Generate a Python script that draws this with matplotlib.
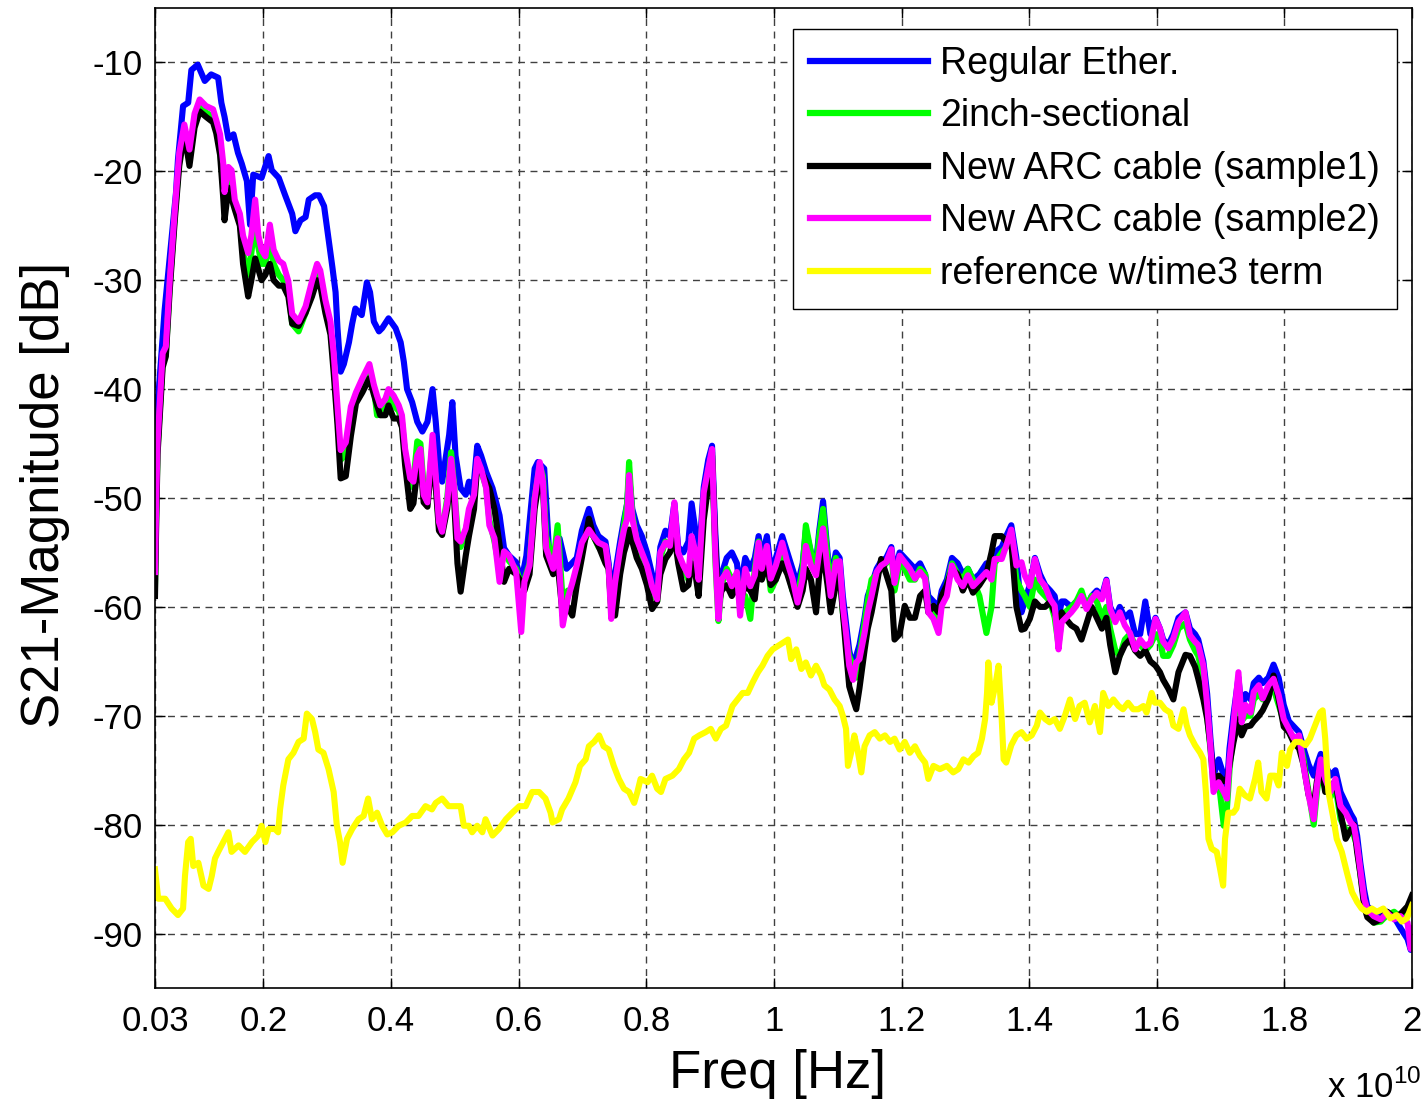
import matplotlib.pyplot as plt
import numpy as np

# frequency grid (x 1e10 Hz) shared by the ARC / sectional traces
f_arc = np.array([
    0.030, 0.032, 0.034, 0.042, 0.047, 0.053, 0.061, 0.068, 0.076, 0.084,
    0.092, 0.100, 0.110, 0.121, 0.126, 0.132, 0.137, 0.139, 0.145, 0.150,
    0.155, 0.163, 0.168, 0.176, 0.181, 0.187, 0.192, 0.197, 0.203, 0.210,
    0.216, 0.224, 0.231, 0.239, 0.245, 0.255, 0.266, 0.276, 0.284, 0.289,
    0.297, 0.305, 0.310, 0.316, 0.321, 0.329, 0.337, 0.345, 0.355, 0.366,
    0.373, 0.378, 0.383, 0.391, 0.396, 0.404, 0.412, 0.417, 0.422, 0.430,
    0.435, 0.441, 0.446, 0.451, 0.457, 0.465, 0.470, 0.475, 0.480, 0.488,
    0.494, 0.499, 0.504, 0.509, 0.517, 0.522, 0.530, 0.535, 0.541, 0.549,
    0.554, 0.562, 0.570, 0.577, 0.585, 0.596, 0.604, 0.609, 0.617, 0.625,
    0.633, 0.638, 0.643, 0.654, 0.661, 0.669, 0.677, 0.684, 0.691, 0.699,
    0.710, 0.717, 0.725, 0.736, 0.741, 0.745, 0.751, 0.759, 0.765, 0.770,
    0.773, 0.778, 0.785, 0.793, 0.801, 0.809, 0.817, 0.822, 0.830, 0.837,
    0.844, 0.850, 0.858, 0.866, 0.871, 0.877, 0.882, 0.890, 0.897, 0.903,
    0.908, 0.913, 0.918, 0.926, 0.934, 0.942, 0.947, 0.955, 0.963, 0.970,
    0.976, 0.981, 0.989, 0.995, 1.003, 1.013, 1.021, 1.029, 1.037, 1.045,
    1.050, 1.058, 1.066, 1.071, 1.077, 1.084, 1.089, 1.097, 1.103, 1.108,
    1.113, 1.118, 1.124, 1.129, 1.134, 1.142, 1.147, 1.153, 1.161, 1.168,
    1.176, 1.184, 1.189, 1.197, 1.205, 1.213, 1.221, 1.229, 1.237, 1.242,
    1.250, 1.258, 1.263, 1.271, 1.279, 1.288, 1.296, 1.304, 1.312, 1.322,
    1.333, 1.341, 1.346, 1.357, 1.364, 1.372, 1.380, 1.388, 1.393, 1.401,
    1.409, 1.417, 1.425, 1.433, 1.440, 1.446, 1.451, 1.456, 1.466, 1.474,
    1.482, 1.490, 1.498, 1.506, 1.514, 1.521, 1.527, 1.535, 1.542, 1.550,
    1.558, 1.566, 1.574, 1.582, 1.590, 1.598, 1.605, 1.610, 1.618, 1.626,
    1.634, 1.645, 1.652, 1.660, 1.665, 1.673, 1.679, 1.684, 1.689, 1.697,
    1.705, 1.710, 1.714, 1.720, 1.728, 1.733, 1.739, 1.747, 1.752, 1.760,
    1.766, 1.775, 1.783, 1.791, 1.799, 1.807, 1.815, 1.823, 1.830, 1.838,
    1.846, 1.851, 1.857, 1.864, 1.872, 1.880, 1.888, 1.896, 1.904, 1.909,
    1.914, 1.919, 1.925, 1.930, 1.940, 1.951, 1.961, 1.972, 1.982, 1.993,
    1.998, 2.000])

magenta_db = [
    -56.8, -49.9, -44.9, -36.7, -36.1, -30.1, -23.6, -18.3, -15.7, -18.0,
    -14.7, -13.4, -14.0, -14.3, -15.3, -16.6, -19.3, -21.9, -19.6, -19.9,
    -22.6, -23.9, -25.9, -27.5, -25.9, -22.6, -25.9, -27.2, -27.8, -24.9,
    -27.2, -28.2, -28.5, -30.1, -33.1, -33.8, -32.4, -30.1, -28.5, -29.1,
    -31.8, -33.8, -36.7, -41.6, -45.6, -44.9, -41.6, -40.3, -39.0, -37.7,
    -39.6, -40.6, -41.5, -40.9, -40.0, -40.6, -41.5, -42.4, -45.5, -48.2,
    -48.5, -46.1, -45.5, -49.7, -50.4, -44.2, -47.9, -52.2, -53.1, -50.4,
    -46.4, -49.1, -53.7, -54.0, -52.8, -51.0, -49.7, -46.4, -47.3, -49.1,
    -52.5, -53.7, -57.7, -54.9, -55.3, -56.8, -62.3, -57.7, -56.2, -50.1,
    -46.7, -48.5, -54.6, -56.5, -53.7, -61.7, -59.2, -57.8, -56.2, -54.1,
    -52.9, -53.5, -54.1, -54.4, -56.5, -61.1, -57.8, -54.7, -52.9, -51.9,
    -47.9, -51.9, -53.8, -55.0, -56.2, -58.1, -59.3, -55.0, -54.1, -54.4,
    -50.4, -55.0, -56.2, -57.1, -53.5, -55.0, -57.5, -49.5, -47.3, -45.5,
    -55.0, -61.1, -57.5, -56.8, -58.1, -56.8, -60.8, -56.5, -58.1, -57.1,
    -54.1, -56.5, -54.4, -57.4, -56.2, -54.1, -55.9, -57.4, -59.6, -57.4,
    -54.4, -56.2, -57.1, -55.0, -52.8, -56.5, -59.0, -55.9, -55.8, -59.9,
    -62.4, -65.4, -66.7, -65.1, -64.8, -62.4, -60.5, -59.0, -56.8, -56.2,
    -55.9, -54.7, -57.8, -55.3, -55.9, -56.5, -57.4, -56.8, -57.4, -60.5,
    -61.1, -62.4, -59.9, -59.0, -56.2, -57.5, -58.1, -57.1, -58.1, -57.5,
    -56.8, -57.5, -55.6, -55.6, -54.4, -52.9, -56.2, -55.9, -57.1, -58.1,
    -55.6, -57.5, -58.1, -59.3, -59.9, -63.9, -61.4, -61.1, -60.5, -59.9,
    -59.0, -60.2, -59.3, -58.7, -59.3, -57.6, -60.2, -61.4, -60.5, -61.7,
    -62.4, -63.9, -63.0, -63.6, -63.3, -61.1, -62.0, -63.2, -63.8, -62.9,
    -61.4, -60.5, -62.6, -63.2, -63.5, -65.4, -69.0, -72.7, -77.0, -76.1,
    -77.0, -77.6, -74.0, -70.9, -66.0, -70.6, -69.0, -69.7, -67.8, -67.2,
    -68.4, -67.2, -66.6, -68.1, -70.3, -71.2, -72.1, -71.8, -74.6, -77.3,
    -79.5, -76.4, -74.0, -75.8, -77.0, -75.8, -78.3, -78.9, -79.8, -80.1,
    -81.9, -84.1, -86.8, -87.8, -88.4, -88.7, -88.1, -88.7, -88.4, -89.0,
    -91.4, -89.5]

black_db = [
    -59.0, -52.0, -46.0, -38.0, -37.0, -31.0, -24.5, -19.5, -16.5, -19.5,
    -16.0, -14.5, -15.0, -15.5, -16.5, -18.5, -22.5, -24.5, -21.5, -22.5,
    -23.5, -25.0, -28.5, -31.5, -30.0, -28.0, -29.0, -30.0, -29.5, -28.5,
    -30.0, -30.5, -30.5, -31.5, -34.0, -34.2, -33.0, -31.5, -30.0, -30.5,
    -33.0, -35.0, -38.5, -43.3, -48.2, -48.0, -44.3, -41.3, -40.3, -39.0,
    -40.5, -41.5, -42.4, -42.4, -41.5, -42.7, -42.7, -43.5, -47.0, -51.0,
    -50.5, -47.5, -46.7, -50.4, -50.8, -46.0, -49.0, -53.0, -53.4, -51.0,
    -47.5, -50.5, -56.0, -58.6, -55.3, -53.5, -51.0, -47.0, -47.5, -48.5,
    -49.1, -51.0, -54.3, -57.7, -56.5, -57.0, -57.7, -58.5, -57.0, -51.0,
    -48.0, -49.0, -55.3, -57.0, -56.0, -60.8, -60.0, -60.8, -58.0, -55.5,
    -51.9, -53.5, -54.4, -56.0, -56.5, -60.0, -60.8, -57.0, -55.0, -54.0,
    -52.9, -54.0, -55.5, -56.5, -58.0, -60.2, -59.5, -57.0, -55.6, -55.0,
    -53.5, -56.0, -58.4, -58.0, -56.0, -57.0, -59.0, -52.0, -48.9, -46.1,
    -54.0, -59.9, -58.5, -58.0, -59.0, -58.0, -59.5, -58.0, -58.5, -59.3,
    -56.0, -57.5, -56.0, -58.0, -57.5, -56.0, -57.0, -58.5, -60.0, -58.5,
    -56.5, -57.5, -60.5, -57.0, -55.0, -58.0, -60.5, -58.0, -57.0, -60.5,
    -64.0, -67.3, -68.5, -69.4, -67.5, -64.0, -62.0, -60.5, -58.0, -55.6,
    -57.0, -58.5, -63.0, -62.5, -59.9, -61.0, -61.0, -59.0, -58.5, -60.5,
    -59.9, -60.5, -59.0, -58.0, -56.5, -57.0, -58.5, -57.5, -58.7, -58.0,
    -57.0, -55.0, -53.5, -53.5, -54.0, -54.0, -60.0, -62.1, -62.0, -61.1,
    -59.5, -60.0, -60.0, -59.5, -60.5, -61.5, -60.5, -61.0, -61.7, -62.0,
    -63.0, -61.5, -60.0, -61.0, -62.0, -61.0, -63.5, -66.0, -64.5, -63.5,
    -63.0, -64.0, -64.5, -64.0, -65.0, -65.4, -66.0, -66.7, -67.5, -68.5,
    -66.0, -64.4, -64.5, -65.5, -66.6, -68.5, -70.3, -72.7, -75.8, -75.5,
    -76.0, -76.0, -74.5, -72.5, -70.3, -71.8, -71.0, -70.9, -70.5, -70.0,
    -69.5, -68.4, -66.3, -68.5, -71.0, -71.5, -72.5, -73.0, -74.5, -77.3,
    -78.3, -76.0, -74.5, -77.0, -76.5, -76.0, -78.9, -81.3, -80.5, -80.0,
    -82.5, -84.5, -87.5, -88.5, -89.0, -88.7, -88.0, -88.5, -88.2, -87.5,
    -86.8, -86.5]

green_db = [
    -58.0, -51.0, -45.5, -37.5, -36.8, -30.5, -24.0, -19.0, -16.2, -18.8,
    -15.5, -14.0, -14.6, -15.0, -16.0, -18.0, -21.5, -23.5, -20.5, -21.5,
    -23.0, -24.5, -27.5, -29.5, -27.5, -24.5, -27.0, -28.5, -28.5, -26.5,
    -28.5, -29.5, -30.0, -31.0, -34.0, -34.7, -33.0, -31.0, -29.0, -30.0,
    -32.5, -34.5, -37.5, -42.5, -46.5, -46.0, -42.5, -41.0, -40.0, -38.5,
    -39.8, -42.4, -42.0, -41.5, -40.5, -41.5, -42.0, -43.0, -46.0, -49.0,
    -48.5, -44.8, -45.0, -49.0, -50.0, -45.0, -48.5, -52.5, -53.0, -50.0,
    -45.8, -49.0, -53.0, -54.5, -53.0, -51.5, -50.0, -46.8, -47.5, -49.0,
    -52.0, -54.0, -56.5, -55.0, -55.8, -56.5, -58.0, -57.5, -56.0, -50.0,
    -47.0, -48.0, -53.5, -56.0, -52.5, -59.5, -58.5, -58.5, -56.8, -54.5,
    -53.0, -53.5, -54.5, -55.0, -56.5, -60.5, -58.5, -55.0, -52.5, -50.5,
    -46.7, -51.5, -54.0, -55.5, -56.5, -58.5, -59.5, -55.5, -54.0, -54.2,
    -53.0, -55.5, -56.5, -57.5, -54.5, -55.5, -58.0, -50.0, -47.5, -45.8,
    -55.5, -61.3, -58.0, -56.5, -57.5, -57.0, -60.0, -59.0, -61.1, -56.5,
    -54.0, -56.5, -55.5, -58.5, -57.5, -55.0, -56.5, -58.5, -59.0, -56.5,
    -52.5, -55.0, -56.5, -53.5, -51.0, -55.5, -58.0, -55.5, -56.5, -60.5,
    -63.0, -64.5, -65.5, -66.5, -64.5, -61.5, -59.5, -57.5, -57.0, -56.5,
    -56.0, -55.0, -58.5, -56.0, -56.5, -57.5, -57.5, -56.5, -57.0, -60.0,
    -60.5, -61.5, -59.5, -58.0, -56.0, -57.0, -57.5, -56.5, -57.5, -59.0,
    -62.4, -60.0, -56.0, -55.0, -54.5, -53.5, -57.5, -58.5, -59.0, -60.0,
    -57.5, -58.5, -59.0, -59.5, -61.0, -63.5, -61.0, -60.5, -60.0, -59.5,
    -58.5, -60.0, -59.0, -59.5, -61.0, -60.0, -62.0, -64.0, -64.5, -63.0,
    -62.5, -63.5, -63.5, -64.0, -63.5, -62.5, -63.0, -64.5, -64.5, -63.5,
    -62.0, -61.5, -63.0, -64.0, -64.5, -66.5, -70.0, -73.0, -76.5, -76.0,
    -80.1, -78.5, -75.0, -71.5, -68.5, -70.5, -70.0, -70.0, -68.5, -68.0,
    -68.5, -68.0, -67.5, -69.0, -70.5, -71.5, -72.0, -72.0, -74.0, -77.0,
    -80.0, -77.0, -74.5, -76.0, -77.5, -76.5, -79.5, -80.5, -80.5, -81.0,
    -82.0, -84.5, -87.0, -88.0, -89.0, -88.9, -88.3, -88.0, -88.5, -88.0,
    -87.5, -86.8]

# Regular Ether.: own points up to 0.68, then on f_arc from index 98 (0.691)
blue_f = [
    0.030, 0.032, 0.045, 0.055, 0.063, 0.066, 0.074, 0.082, 0.087, 0.097,
    0.108, 0.118, 0.129, 0.134, 0.139, 0.145, 0.153, 0.160, 0.166, 0.174,
    0.179, 0.184, 0.197, 0.208, 0.213, 0.224, 0.234, 0.245, 0.250, 0.258,
    0.266, 0.271, 0.281, 0.287, 0.295, 0.302, 0.308, 0.313, 0.316, 0.321,
    0.326, 0.334, 0.339, 0.344, 0.354, 0.362, 0.367, 0.373, 0.381, 0.386,
    0.396, 0.407, 0.415, 0.420, 0.425, 0.433, 0.441, 0.449, 0.457, 0.465,
    0.470, 0.475, 0.480, 0.491, 0.496, 0.501, 0.509, 0.517, 0.522, 0.528,
    0.535, 0.541, 0.549, 0.559, 0.570, 0.577, 0.585, 0.596, 0.604, 0.612,
    0.625, 0.630, 0.640, 0.648, 0.654, 0.664, 0.675, 0.680]
blue_db = [
    -46.0, -43.3, -32.8, -26.8, -21.9, -18.9, -14.0, -13.7, -10.7, -10.2,
    -11.7, -11.1, -11.4, -13.7, -15.0, -17.0, -16.6, -18.3, -19.3, -20.9,
    -24.9, -20.3, -20.6, -18.6, -19.9, -20.6, -22.2, -23.9, -25.5, -24.5,
    -24.2, -22.6, -22.2, -22.2, -23.2, -26.2, -28.8, -31.1, -34.4, -38.4,
    -37.7, -35.7, -34.0, -32.6, -33.2, -30.2, -31.1, -33.8, -34.7, -34.4,
    -33.5, -34.4, -35.7, -37.5, -40.0, -41.2, -43.0, -43.9, -43.0, -40.0,
    -43.0, -46.7, -48.5, -44.2, -41.2, -46.1, -49.1, -49.7, -48.5, -49.7,
    -45.2, -46.1, -47.6, -49.1, -51.6, -54.6, -55.3, -55.9, -57.7, -55.3,
    -47.3, -46.7, -47.3, -55.3, -56.2, -53.7, -56.5, -56.2]
blue_tail_db = [
    -55.5, -53.0,
    -51.0, -52.5, -53.5, -54.0, -56.0, -58.5, -57.0, -54.0, -52.0, -50.5,
    -48.0, -51.0, -52.5, -53.5, -55.0, -57.0, -58.0, -54.5, -53.0, -53.5,
    -50.5, -54.5, -55.0, -54.0, -50.5, -53.0, -56.0, -49.0, -46.5, -45.2,
    -53.0, -59.0, -57.0, -55.5, -55.0, -56.0, -58.5, -55.5, -56.5, -55.5,
    -53.5, -55.5, -53.5, -56.5, -55.5, -53.5, -55.0, -56.5, -58.0, -56.0,
    -53.0, -55.0, -56.0, -53.0, -50.3, -55.0, -57.5, -55.0, -55.5, -59.0,
    -61.5, -64.0, -65.5, -64.5, -63.5, -61.0, -59.0, -58.0, -56.5, -55.8,
    -55.5, -54.5, -57.0, -55.0, -55.5, -56.0, -56.5, -56.0, -57.0, -59.0,
    -59.5, -60.0, -58.5, -57.5, -55.5, -56.0, -57.0, -56.5, -57.5, -57.0,
    -56.0, -57.0, -55.0, -54.5, -53.5, -52.5, -55.5, -60.5, -59.5, -58.0,
    -55.5, -57.0, -58.0, -58.5, -59.0, -61.0, -59.5, -59.5, -60.0, -59.5,
    -59.0, -60.0, -59.0, -58.5, -59.0, -57.5, -60.0, -61.0, -60.0, -61.0,
    -60.5, -62.5, -62.5, -59.5, -62.5, -61.0, -62.0, -63.0, -63.5, -62.5,
    -61.0, -60.5, -62.0, -62.5, -63.0, -65.0, -68.0, -72.0, -75.5, -74.0,
    -75.5, -76.5, -73.0, -70.0, -66.5, -69.5, -68.0, -68.5, -67.0, -66.5,
    -67.0, -66.5, -65.3, -66.5, -69.0, -70.5, -71.0, -71.5, -73.0, -74.5,
    -75.5, -74.5, -73.5, -74.5, -75.5, -75.0, -77.0, -78.0, -79.0, -79.5,
    -81.0, -83.5, -86.0, -87.5, -88.0, -88.5, -88.0, -88.5, -89.5, -90.5,
    -91.5, -91.0]

yel_f = [
    0.030, 0.035, 0.046, 0.056, 0.066, 0.074, 0.077, 0.082, 0.086, 0.090,
    0.098, 0.106, 0.114, 0.119, 0.124, 0.129, 0.137, 0.145, 0.150, 0.161,
    0.171, 0.182, 0.192, 0.197, 0.203, 0.208, 0.218, 0.223, 0.226, 0.231,
    0.239, 0.247, 0.255, 0.263, 0.268, 0.276, 0.281, 0.286, 0.294, 0.302,
    0.310, 0.315, 0.320, 0.324, 0.331, 0.339, 0.349, 0.357, 0.364, 0.370,
    0.378, 0.386, 0.394, 0.402, 0.412, 0.423, 0.433, 0.443, 0.454, 0.464,
    0.470, 0.480, 0.490, 0.501, 0.509, 0.514, 0.522, 0.527, 0.535, 0.543,
    0.548, 0.559, 0.569, 0.580, 0.590, 0.601, 0.611, 0.621, 0.632, 0.642,
    0.650, 0.653, 0.663, 0.668, 0.678, 0.689, 0.696, 0.705, 0.710, 0.718,
    0.726, 0.733, 0.741, 0.749, 0.757, 0.765, 0.773, 0.781, 0.786, 0.791,
    0.802, 0.809, 0.817, 0.823, 0.830, 0.841, 0.851, 0.859, 0.867, 0.875,
    0.883, 0.893, 0.901, 0.909, 0.917, 0.925, 0.930, 0.935, 0.943, 0.951,
    0.959, 0.967, 0.975, 0.982, 0.990, 0.998, 1.006, 1.014, 1.022, 1.027,
    1.035, 1.043, 1.050, 1.058, 1.066, 1.074, 1.079, 1.087, 1.095, 1.103,
    1.108, 1.113, 1.116, 1.121, 1.126, 1.131, 1.137, 1.142, 1.150, 1.158,
    1.166, 1.174, 1.182, 1.189, 1.197, 1.205, 1.213, 1.221, 1.229, 1.237,
    1.242, 1.250, 1.260, 1.271, 1.281, 1.289, 1.297, 1.305, 1.313, 1.320,
    1.326, 1.331, 1.334, 1.336, 1.341, 1.347, 1.352, 1.357, 1.360, 1.364,
    1.372, 1.380, 1.388, 1.396, 1.404, 1.412, 1.417, 1.425, 1.432, 1.440,
    1.448, 1.456, 1.464, 1.472, 1.479, 1.487, 1.495, 1.503, 1.511, 1.516,
    1.524, 1.532, 1.540, 1.547, 1.555, 1.563, 1.571, 1.579, 1.584, 1.592,
    1.597, 1.605, 1.613, 1.621, 1.626, 1.634, 1.642, 1.647, 1.652, 1.660,
    1.668, 1.673, 1.677, 1.681, 1.686, 1.694, 1.699, 1.704, 1.707, 1.712,
    1.720, 1.725, 1.730, 1.738, 1.746, 1.754, 1.759, 1.764, 1.772, 1.778,
    1.785, 1.791, 1.796, 1.804, 1.809, 1.817, 1.825, 1.833, 1.840, 1.848,
    1.856, 1.860, 1.864, 1.869, 1.877, 1.882, 1.890, 1.898, 1.906, 1.914,
    1.921, 1.929, 1.937, 1.945, 1.955, 1.966, 1.976, 1.984, 1.992, 2.000]
yel_db = [
    -84.1, -86.8, -86.8, -87.7, -88.3, -87.7, -84.7, -81.6, -81.3, -83.8,
    -83.5, -85.6, -85.9, -84.7, -83.1, -82.5, -81.6, -80.7, -82.5, -81.9,
    -82.5, -81.6, -81.0, -80.1, -81.6, -80.4, -80.4, -80.7, -78.6, -76.4,
    -74.0, -73.4, -72.4, -72.1, -69.8, -70.3, -71.5, -73.1, -73.4, -74.9,
    -77.0, -80.1, -81.6, -83.5, -81.3, -80.4, -79.5, -79.2, -77.6, -79.5,
    -78.9, -80.1, -80.9, -80.7, -80.1, -79.8, -79.2, -79.2, -78.3, -78.6,
    -78.0, -77.6, -78.3, -78.3, -78.3, -80.1, -80.1, -80.7, -80.1, -80.7,
    -79.5, -81.0, -80.4, -79.5, -78.9, -78.3, -78.3, -77.0, -77.0, -77.6,
    -78.9, -79.8, -79.5, -78.6, -77.6, -76.1, -74.6, -74.0, -72.8, -72.4,
    -71.8, -72.8, -73.1, -74.6, -75.8, -76.7, -77.0, -78.0, -77.0, -75.8,
    -76.1, -75.5, -76.7, -77.0, -75.8, -75.5, -74.9, -74.0, -73.4, -72.1,
    -71.8, -71.5, -71.2, -72.1, -71.2, -70.9, -70.0, -69.1, -68.5, -67.9,
    -67.9, -66.9, -66.0, -65.4, -64.5, -63.9, -63.6, -63.3, -63.0, -64.8,
    -63.9, -65.7, -65.1, -66.3, -65.4, -66.3, -67.2, -67.6, -68.5, -69.1,
    -70.0, -71.2, -74.6, -73.4, -71.8, -73.1, -75.2, -72.8, -71.8, -71.5,
    -72.1, -71.8, -72.4, -72.1, -73.1, -72.4, -73.4, -72.8, -73.7, -74.3,
    -75.8, -74.6, -74.9, -74.6, -75.2, -74.9, -74.0, -74.3, -73.7, -73.4,
    -72.1, -70.3, -67.9, -65.1, -68.8, -67.2, -65.4, -70.3, -74.0, -74.3,
    -72.7, -71.8, -71.5, -72.1, -71.8, -70.9, -69.7, -70.3, -70.6, -70.3,
    -71.2, -70.0, -68.5, -70.3, -69.1, -68.8, -70.6, -69.1, -71.5, -67.9,
    -69.1, -68.5, -69.1, -69.4, -68.8, -69.4, -69.4, -69.1, -69.7, -67.9,
    -68.8, -68.8, -69.4, -69.7, -70.9, -71.2, -69.4, -70.9, -71.8, -72.7,
    -73.4, -74.0, -77.0, -81.3, -82.2, -82.5, -84.0, -85.6, -81.3, -78.9,
    -78.9, -78.5, -76.7, -77.3, -77.6, -75.8, -74.3, -77.0, -77.6, -75.5,
    -75.5, -76.4, -73.4, -74.6, -73.1, -72.4, -72.4, -72.7, -72.1, -70.9,
    -69.7, -69.5, -72.1, -77.0, -79.5, -81.3, -82.5, -84.4, -86.2, -87.1,
    -87.7, -88.0, -87.7, -88.0, -87.7, -88.6, -88.3, -88.9, -88.6, -87.4]

labels = ["Regular Ether.", "2inch-sectional", "New ARC cable (sample1)",
          "New ARC cable (sample2)", "reference w/time3 term"]
xticks = [0.03, 0.2, 0.4, 0.6, 0.8, 1, 1.2, 1.4, 1.6, 1.8, 2]
yticks = [-90, -80, -70, -60, -50, -40, -30, -20, -10]

plt.rcParams['font.family'] = ['Liberation Sans', 'DejaVu Sans']
plt.rcParams['axes.unicode_minus'] = False

W, H = 1426, 1108
fig = plt.figure(figsize=(W / 100, H / 100), dpi=100)
ax = fig.add_axes([155 / W, 1 - 988 / H, 1257 / W, 980 / H])

lw = 4.4
ax.plot(np.concatenate([blue_f, f_arc[98:]]), np.concatenate([blue_db, blue_tail_db]),
        color=(0, 0, 1), lw=lw, label=labels[0])
ax.plot(f_arc, green_db, color=(0, 1, 0), lw=lw, label=labels[1])
ax.plot(f_arc, black_db, color=(0, 0, 0), lw=lw, label=labels[2])
ax.plot(f_arc, magenta_db, color=(1, 0, 1), lw=lw, label=labels[3])
ax.plot(yel_f, yel_db, color=(1, 1, 0), lw=lw, label=labels[4])

ax.set_xlim(0.03, 2)
ax.set_ylim(-95, -5)
ax.set_xticks(xticks)
ax.set_xticklabels(["%g" % t for t in xticks])
ax.set_yticks(yticks)
ax.tick_params(direction="in", top=True, right=True, length=7, width=1,
               labelsize=25)
ax.tick_params(axis="x", pad=12)
ax.tick_params(axis="y", pad=9)
ax.grid(True, color="0.25", linestyle=(0, (5, 4)), linewidth=1)
for s in ax.spines.values():
    s.set_linewidth(1.2)

ax.set_xlabel("Freq [Hz]", fontsize=38)
ax.xaxis.set_label_coords(0.4956, -0.062)
ax.set_ylabel("S21-Magnitude [dB]", fontsize=38)
ax.yaxis.set_label_coords(-0.068, 0.503)

fig.text(1421 / W, 1 - 1098 / H, r"x 10$^{\mathregular{10}}$", fontsize=25,
         ha="right", va="baseline")

leg = ax.legend(loc="upper right", bbox_to_anchor=(0.988, 0.9786),
                borderaxespad=0, fontsize=27, handlelength=3.15,
                handletextpad=0.32, labelspacing=0.44, borderpad=0.45,
                fancybox=False, framealpha=1, edgecolor="black")
leg.get_frame().set_linewidth(1)
for h in leg.get_lines():
    h.set_linewidth(4.5)

plt.savefig("out.png", dpi=100)
